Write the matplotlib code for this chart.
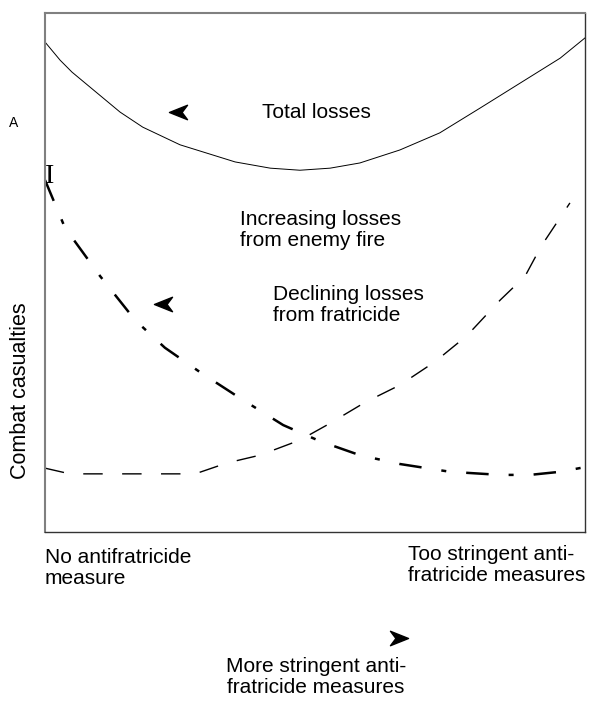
import matplotlib
matplotlib.use("Agg")
import matplotlib.pyplot as plt
from matplotlib.path import Path
import numpy as np

# x: stringency of antifratricide measures (0 = none, 10 = too stringent)
# y: combat casualties (arbitrary units)
total_x = [0, 0.28, 0.50, 1.39, 1.81, 2.50, 3.52, 4.17, 4.72, 5.28, 5.83, 6.57, 7.31, 8.06, 8.80, 9.54, 10.0]
total_y = [9.44, 9.09, 8.86, 8.09, 7.80, 7.46, 7.13, 7.01, 6.97, 7.01, 7.11, 7.36, 7.69, 8.17, 8.65, 9.13, 9.52]

enemy_x = [0, 0.46, 2.78, 3.37, 3.98, 4.72, 5.22, 5.93, 6.57, 7.22, 7.81, 8.43, 8.89, 9.19, 9.72]
enemy_y = [1.23, 1.12, 1.12, 1.33, 1.48, 1.77, 2.06, 2.50, 2.83, 3.28, 3.78, 4.47, 4.93, 5.51, 6.34]

fratr_x = [0, 0.37, 1.02, 1.67, 2.22, 2.87, 3.61, 4.41, 5.09, 5.83, 6.57, 7.50, 8.43, 8.98, 9.54, 10.0]
fratr_y = [6.78, 5.86, 4.93, 4.08, 3.55, 3.08, 2.58, 2.06, 1.75, 1.48, 1.31, 1.16, 1.10, 1.10, 1.16, 1.25]

# arrowheads next to the curves (x, y)
left_arrows = [(2.46, 8.09), (2.19, 4.39)]
right_arrow = (6.55, -2.05)

fig = plt.figure(figsize=(5.9, 7.01), dpi=100)
ax = fig.add_axes([0.0763, 0.2411, 0.9153, 0.7404])
ax.set_xlim(0, 10)
ax.set_ylim(0, 10)
ax.set_xticks([])
ax.set_yticks([])
for s in ["left", "top"]:
    ax.spines[s].set_color("#808080")
    ax.spines[s].set_linewidth(1.5)
for s in ["right", "bottom"]:
    ax.spines[s].set_color("#333333")
    ax.spines[s].set_linewidth(1.0)

# curves
ax.plot(total_x, total_y, color="black", lw=0.7, clip_on=False)
ax.plot(enemy_x, enemy_y, color="black", lw=1.0, dashes=(14, 14), clip_on=False)
ax.plot(fratr_x, fratr_y, color="black", lw=1.8, dashes=(9, 8, 2, 8), clip_on=False)

# arrowhead marker (points right), mirrored one points left
head = Path([(1, 0), (-1, 0.8), (-0.4, 0), (-1, -0.8), (1, 0)],
            [Path.MOVETO, Path.LINETO, Path.LINETO, Path.LINETO, Path.CLOSEPOLY])
head_left = Path(np.array(head.vertices) * [-1, 1], head.codes)
for ax_x, ax_y in left_arrows:
    ax.plot(ax_x, ax_y, marker=head_left, ms=13, color="black", clip_on=False)
ax.plot(*right_arrow, marker=head, ms=13, color="black", clip_on=False)

font = "Liberation Sans"
fs = 15
ls = 1.15
ax.text(4.02, 8.09, "Total losses", fontsize=fs, family=font, va="center")
ax.text(3.61, 5.82, "Increasing losses\nfrom enemy fire", fontsize=fs, family=font,
        va="center", linespacing=ls)
ax.text(4.22, 4.37, "Declining losses\nfrom fratricide", fontsize=fs, family=font,
        va="center", linespacing=ls)

# stray marks of the scanned original
ax.text(-0.58, 7.88, "A", fontsize=10, family=font, ha="center", va="center", clip_on=False)
ax.text(0.09, 6.85, "I", fontsize=20, family="Liberation Serif", ha="center", va="center", clip_on=False)

fig.text(0.034, 0.442, "Combat casualties", rotation=90, fontsize=15.5, family=font,
         ha="center", va="center")
fig.text(45 / 590, 1 - 568 / 701, "No antifratricide\nmeasure", fontsize=fs, family=font,
         ha="left", va="center", linespacing=ls)
fig.text(408 / 590, 1 - 565 / 701, "Too stringent anti-\nfratricide measures", fontsize=fs,
         family=font, ha="left", va="center", linespacing=ls)
fig.text(316 / 590, 1 - 677 / 701, "More stringent anti-\nfratricide measures", fontsize=fs,
         family=font, ha="center", va="center", linespacing=ls)

fig.savefig("out.png", dpi=100)
